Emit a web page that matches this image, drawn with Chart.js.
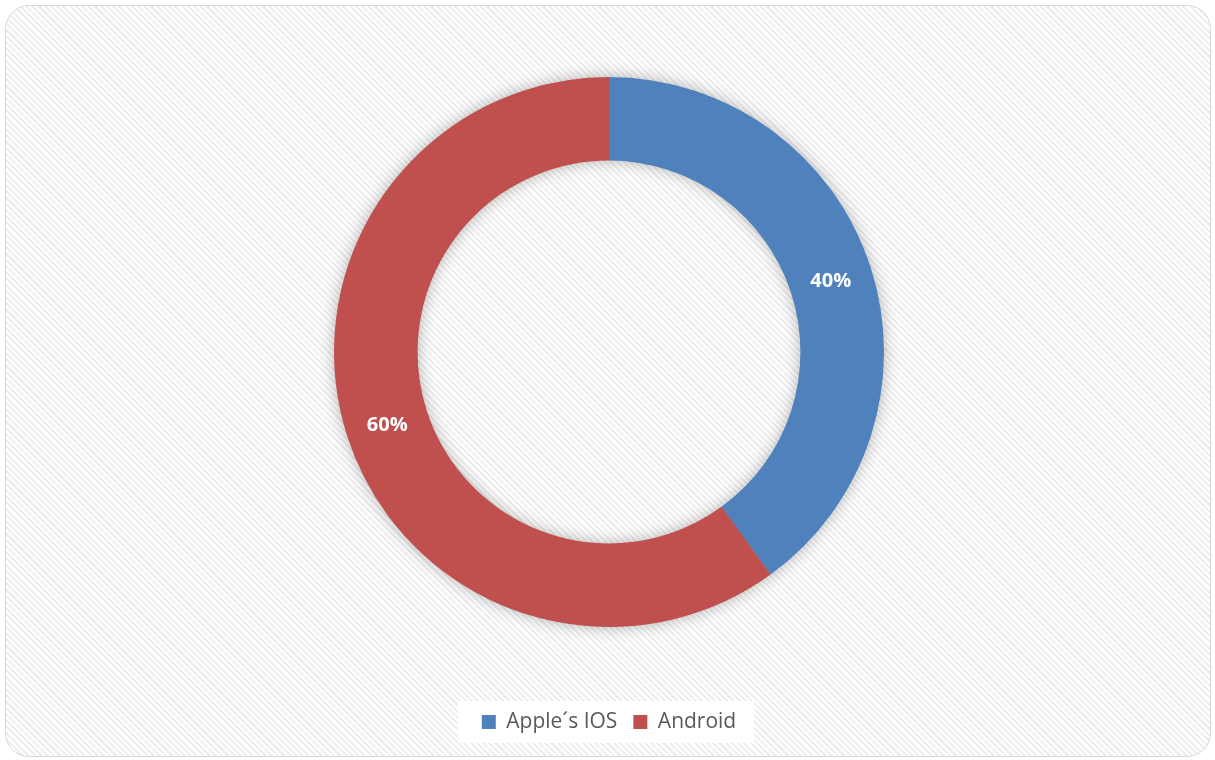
<!DOCTYPE html>
<html>
<head>
<meta charset="utf-8">
<script src="https://cdn.jsdelivr.net/npm/chart.js@4/dist/chart.umd.min.js"></script>
<style>
  html, body { margin: 0; padding: 0; background: #ffffff; }
  #frame {
    position: absolute; left: 5px; top: 5px; width: 1204px; height: 750px;
    border: 1.5px solid #d9d9d9; border-radius: 24px; overflow: hidden;
    background: repeating-linear-gradient(45deg, #ffffff 0px, #ffffff 2.2px, #eeeeee 2.2px, #eeeeee 4.4px);
  }
  #wrap { position: absolute; left: 0; top: 0; width: 1215px; height: 760px; }
</style>
</head>
<body>
<div id="frame"></div>
<div id="wrap"><canvas id="c" width="1215" height="760"></canvas></div>
<script>
const categories = ["Apple\u00b4s IOS", "Android"];
const values = [40, 60];
const colors = ["#4f81bd", "#c0504d"];

const ringShadow = {
  id: 'ringShadow',
  beforeDatasetsDraw(chart) {
    const arc = chart.getDatasetMeta(0).data[0];
    if (!arc) return;
    const {x, y, outerRadius, innerRadius} = arc.getProps(['x','y','outerRadius','innerRadius'], true);
    const ctx = chart.ctx;
    ctx.save();
    ctx.shadowColor = 'rgba(0,0,0,0.32)';
    ctx.shadowBlur = 16;
    ctx.fillStyle = '#9a9a9a';
    ctx.beginPath();
    ctx.arc(x, y, outerRadius - 1, 0, Math.PI * 2, false);
    ctx.arc(x, y, innerRadius + 1, 0, Math.PI * 2, true);
    ctx.closePath();
    ctx.fill();
    ctx.restore();
  }
};

const sliceLabels = {
  id: 'sliceLabels',
  afterDatasetsDraw(chart) {
    const meta = chart.getDatasetMeta(0);
    const data = chart.data.datasets[0].data;
    const total = data.reduce((a, b) => a + b, 0);
    const ctx = chart.ctx;
    ctx.save();
    ctx.fillStyle = '#ffffff';
    ctx.font = 'bold 20px "Open Sans", sans-serif';
    ctx.textAlign = 'center';
    ctx.textBaseline = 'middle';
    meta.data.forEach((el, i) => {
      const p = el.getCenterPoint();
      ctx.fillText(Math.round(data[i] / total * 100) + '%', p.x, p.y + 1);
    });
    ctx.restore();
  }
};

const legendBox = {
  id: 'legendBox',
  beforeDraw(chart) {
    const lg = chart.legend;
    if (!lg || !lg.legendHitBoxes || !lg.legendHitBoxes.length) return;
    const hb = lg.legendHitBoxes;
    const first = hb[0], last = hb[hb.length - 1];
    const left = first.left - 24, right = last.left + last.width + 18;
    const cy = first.top + first.height / 2;
    const ctx = chart.ctx;
    ctx.save();
    ctx.fillStyle = '#ffffff';
    ctx.fillRect(left, cy - 21, right - left, 42);
    ctx.restore();
  }
};

new Chart(document.getElementById('c'), {
  type: 'doughnut',
  data: {
    labels: categories,
    datasets: [{
      data: values,
      backgroundColor: colors,
      borderWidth: 0,
      hoverOffset: 0
    }]
  },
  options: {
    responsive: false,
    animation: false,
    cutout: '69.6%',
    layout: { padding: { top: 77, bottom: 17.5, left: 3, right: 0 } },
    plugins: {
      tooltip: { enabled: false },
      legend: {
        position: 'bottom',
        title: { display: true, text: ' ', font: { size: 10 }, padding: { top: 56.5, bottom: 0 } },
        labels: {
          boxWidth: 14,
          boxHeight: 14,
          padding: 16,
          color: '#595959',
          font: { size: 21, family: '"Open Sans", sans-serif' }
        }
      }
    }
  },
  plugins: [ringShadow, sliceLabels, legendBox]
});
</script>
</body>
</html>
